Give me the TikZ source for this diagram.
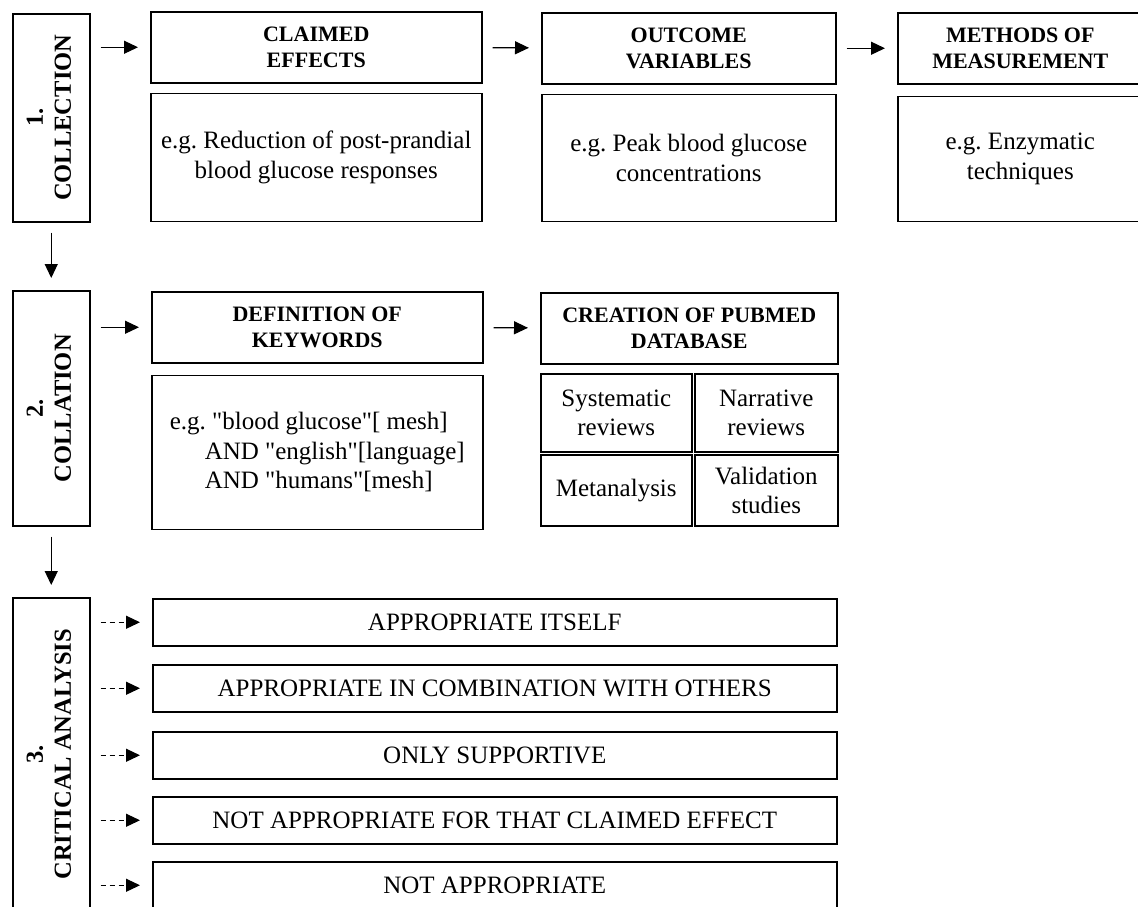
\documentclass[tikz,border=0pt]{standalone}
\usepackage{fontspec}
\setmainfont{Liberation Serif}[Ligatures=TeXOff]
\usetikzlibrary{arrows.meta,positioning}
\tikzset{
  box/.style={
    rectangle,
    draw=black,
    line width=1.5pt,
    align=center,
    inner sep=2pt,
    anchor=north west,
    font=\fontsize{25}{29.5}\selectfont
  },
  headbox/.style={
    box,
    minimum height=71pt,
    font=\bfseries\fontsize{22}{26}\selectfont
  },
  stagebox/.style={
    box,
    minimum width=77pt,
    font=\bfseries\fontsize{24.5}{28}\selectfont
  },
  verdict/.style={
    box,
    minimum width=684pt,
    minimum height=47pt
  },
  arrow/.style={
    -{Triangle[length=14pt,width=13pt]},
    line width=1.2pt,
    shorten <=10pt,
    shorten >=12pt
  },
  dashedarrow/.style={
    arrow,
    dash pattern=on 5pt off 4pt
  }
}
\newcommand{\stagetext}[2]{\rotatebox{90}{\begin{tabular}{@{}c@{}}#1\\#2\end{tabular}}}
\newcommand{\dq}{\XeTeXglyph\XeTeXcharglyph"22\relax}

\begin{document}
\begin{tikzpicture}[x=1pt,y=-1pt]
  \useasboundingbox (0,0) rectangle (1138,906);
  \clip (0,0) rectangle (1138,906);

  % stages
  \node[stagebox, minimum height=208pt] (collection) at (12,13) {\stagetext{1.}{COLLECTION}};
  \node[stagebox, minimum height=235pt] (collation) at (12,290) {\stagetext{2.}{COLLATION}};
  \node[stagebox, minimum height=313pt] (analysis) at (12,597) {\stagetext{3.}{CRITICAL ANALYSIS}};

  % collection
  \node[headbox, minimum width=331pt] (claimed) at (150,11) {CLAIMED\\EFFECTS};
  \node[box, minimum width=331pt, minimum height=128pt, below=9pt of claimed] (claimedex) {e.g.\ Reduction of post-prandial\\blood glucose responses};
  \node[headbox, minimum width=294pt] (outcome) at (541,12) {OUTCOME\\VARIABLES};
  \node[box, minimum width=294pt, minimum height=127pt, below=9pt of outcome] (outcomeex) {e.g.\ Peak blood glucose\\concentrations};
  \node[headbox, minimum width=245pt] (methods) at (897,12) {METHODS OF\\MEASUREMENT};
  \node[box, minimum width=245pt, minimum height=125pt, below=11pt of methods] (methodsex) {e.g.\ Enzymatic\\techniques};

  % collation
  \node[headbox, minimum width=331pt] (keywords) at (151,291) {DEFINITION OF\\KEYWORDS};
  \node[box, minimum width=331pt, minimum height=154pt, below=11pt of keywords, align=left] (keywordsex) {e.g.\ \dq blood glucose\dq[ mesh]\\\hspace*{35pt}AND \dq english\dq[language]\\\hspace*{35pt}AND \dq humans\dq[mesh]};
  \node[headbox, minimum width=297pt] (pubmed) at (540,292) {CREATION OF PUBMED\\DATABASE};
  \node[box, minimum width=151pt, minimum height=78pt] (systematic) at (540,373) {Systematic\\reviews};
  \node[box, minimum width=143pt, minimum height=78pt] (narrative) at (694,373) {Narrative\\reviews};
  \node[box, minimum width=151pt, minimum height=71pt] (meta) at (540,454) {Metanalysis};
  \node[box, minimum width=143pt, minimum height=71pt] (validation) at (694,454) {Validation\\studies};

  % critical analysis
  \node[verdict] (itself) at (152,598) {APPROPRIATE ITSELF};
  \node[verdict] (combined) at (152,664) {APPROPRIATE IN COMBINATION WITH OTHERS};
  \node[verdict] (supportive) at (152,731) {ONLY SUPPORTIVE};
  \node[verdict] (notforeffect) at (152,796) {NOT APPROPRIATE FOR THAT CLAIMED EFFECT};
  \node[verdict] (notappropriate) at (152,861) {NOT APPROPRIATE};

  \draw[arrow] (collection) -- (collation);
  \draw[arrow] (collation) -- (analysis);

  \draw[arrow] (claimed.west -| collection.east) -- (claimed.west);
  \draw[arrow] (claimed) -- (outcome);
  \draw[arrow] (outcome) -- (methods);

  \draw[arrow] (keywords.west -| collation.east) -- (keywords.west);
  \draw[arrow] (keywords) -- (pubmed);

  \draw[dashedarrow] (itself.west -| analysis.east) -- (itself.west);
  \draw[dashedarrow] (combined.west -| analysis.east) -- (combined.west);
  \draw[dashedarrow] (supportive.west -| analysis.east) -- (supportive.west);
  \draw[dashedarrow] (notforeffect.west -| analysis.east) -- (notforeffect.west);
  \draw[dashedarrow] (notappropriate.west -| analysis.east) -- (notappropriate.west);
\end{tikzpicture}
\end{document}
